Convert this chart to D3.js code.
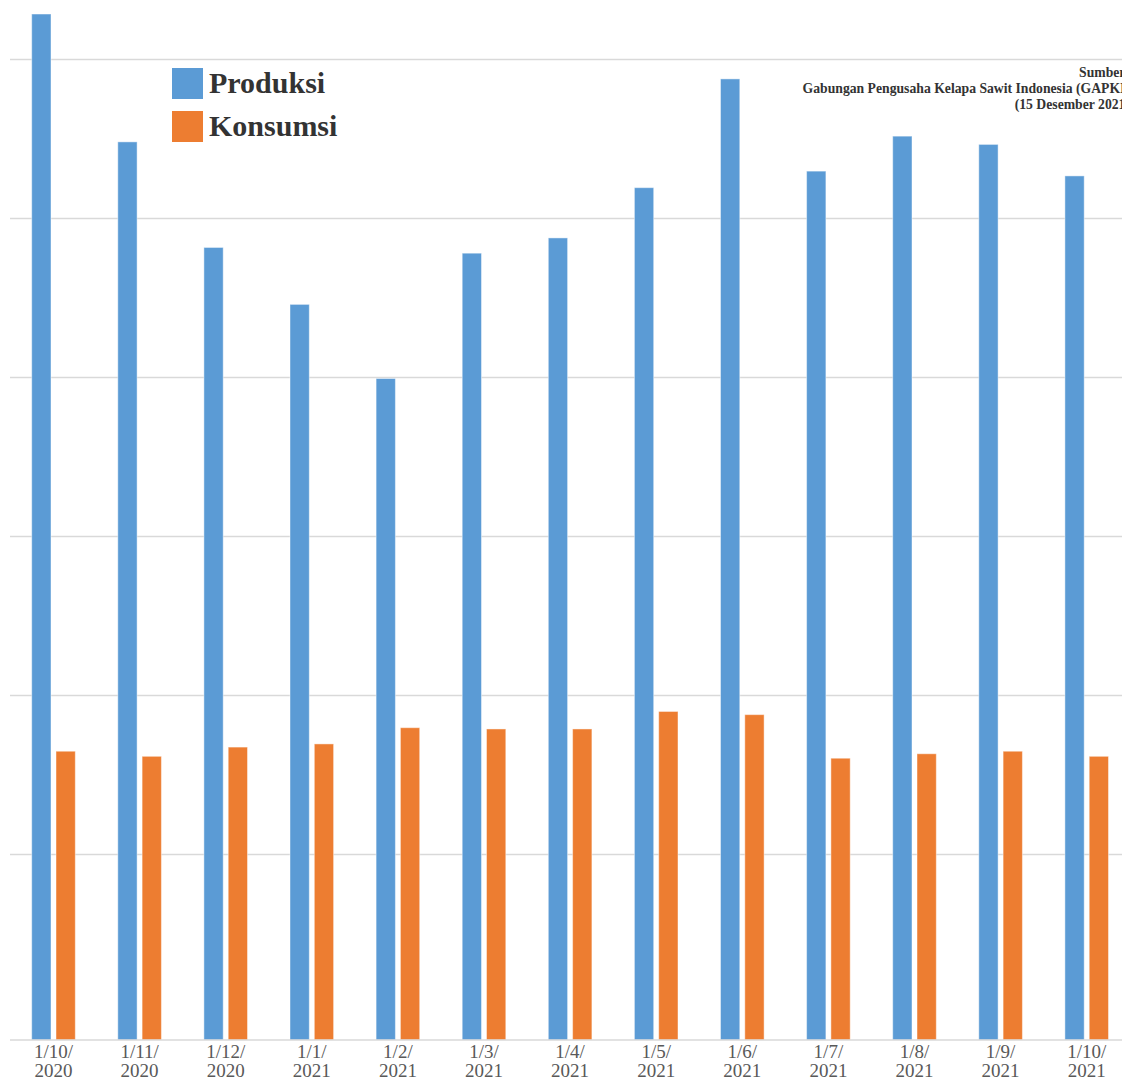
<!DOCTYPE html>
<html>
<head>
<meta charset="utf-8">
<script src="https://cdn.jsdelivr.net/npm/d3@7"></script>
<style>
  html, body { margin: 0; padding: 0; background: #fff; }
  svg { display: block; }
</style>
</head>
<body>
<svg id="chart" width="1122" height="1079"></svg>
<script>
// ---- data ----
const categories = ["1/10/2020","1/11/2020","1/12/2020","1/1/2021","1/2/2021","1/3/2021","1/4/2021",
                    "1/5/2021","1/6/2021","1/7/2021","1/8/2021","1/9/2021","1/10/2021"];
const seriesNames = ["Produksi","Konsumsi"];
const produksi = [4643, 4241, 3909, 3730, 3497, 3891, 3939, 4097, 4439, 4149, 4259, 4233, 4134];
const konsumsi = [2325, 2309, 2338, 2348, 2399, 2395, 2395, 2450, 2440, 2303, 2317, 2325, 2309];
const gridValues = [2000, 2500, 3000, 3500, 4000, 4500];
const axisMin = 1417;
const sourceLines = ["Sumber:", "Gabungan Pengusaha Kelapa Sawit Indonesia (GAPKI)", "(15 Desember 2021)"];

// ---- drawing ----
const colors = {Produksi: "#5B9BD5", Konsumsi: "#ED7D31"};
const svg = d3.select("#chart");

const y = d3.scaleLinear().domain([axisMin, 4500]).range([1040, 59.5]);
const x0 = d3.scaleBand().domain(categories).range([10.45, 1129.75])
  .paddingInner(0.4936).paddingOuter(0.2468);
const x1 = d3.scaleBand().domain(seriesNames).range([0, x0.bandwidth()]).paddingInner(0.206);

// gridlines
svg.append("g").selectAll("line").data(gridValues).join("line")
  .attr("x1", 10).attr("x2", 1135)
  .attr("y1", d => y(d)).attr("y2", d => y(d))
  .attr("stroke", "#d9d9d9").attr("stroke-width", 1.5);

// bars
const rows = categories.map((c, i) => ({c, Produksi: produksi[i], Konsumsi: konsumsi[i]}));
const g = svg.append("g").selectAll("g").data(rows).join("g")
  .attr("transform", d => `translate(${x0(d.c)},0)`);
g.selectAll("rect").data(d => seriesNames.map(k => ({k, v: d[k]}))).join("rect")
  .attr("x", d => x1(d.k)).attr("width", x1.bandwidth())
  .attr("y", d => y(d.v)).attr("height", d => y(axisMin) - y(d.v))
  .attr("fill", d => colors[d.k])
  .attr("stroke", "rgba(255,255,255,0.45)").attr("stroke-width", 1);

// baseline
svg.append("line").attr("x1", 10).attr("x2", 1135)
  .attr("y1", y(axisMin)).attr("y2", y(axisMin))
  .attr("stroke", "#d9d9d9").attr("stroke-width", 1.5);

// x labels
const lab = svg.append("g").selectAll("text").data(categories).join("text")
  .attr("text-anchor", "middle")
  .attr("font-family", "'Liberation Serif', serif").attr("font-size", 19)
  .attr("fill", "#595959");
lab.each(function(c) {
  const idx = c.lastIndexOf("/");
  const cx = x0(c) + x0.bandwidth() / 2;
  const t = d3.select(this);
  t.append("tspan").attr("x", cx).attr("y", 1058).text(c.slice(0, idx + 1));
  t.append("tspan").attr("x", cx).attr("y", 1077).text(c.slice(idx + 1));
});

// legend
const leg = svg.append("g").selectAll("g").data(seriesNames).join("g")
  .attr("transform", (d, i) => `translate(172,${68 + i * 43})`);
leg.append("rect").attr("width", 31).attr("height", 31).attr("fill", d => colors[d]);
leg.append("text").attr("x", 37).attr("y", 25)
  .attr("font-family", "'Liberation Serif', serif").attr("font-weight", "bold")
  .attr("font-size", 30).attr("fill", "#333333").text(d => d);

// source
svg.append("g").selectAll("text").data(sourceLines).join("text")
  .attr("x", 1130).attr("y", (d, i) => 77 + i * 16)
  .attr("text-anchor", "end")
  .attr("font-family", "'Liberation Serif', serif").attr("font-weight", "bold")
  .attr("font-size", 13.7).attr("fill", "#333333").text(d => d);
</script>
</body>
</html>
